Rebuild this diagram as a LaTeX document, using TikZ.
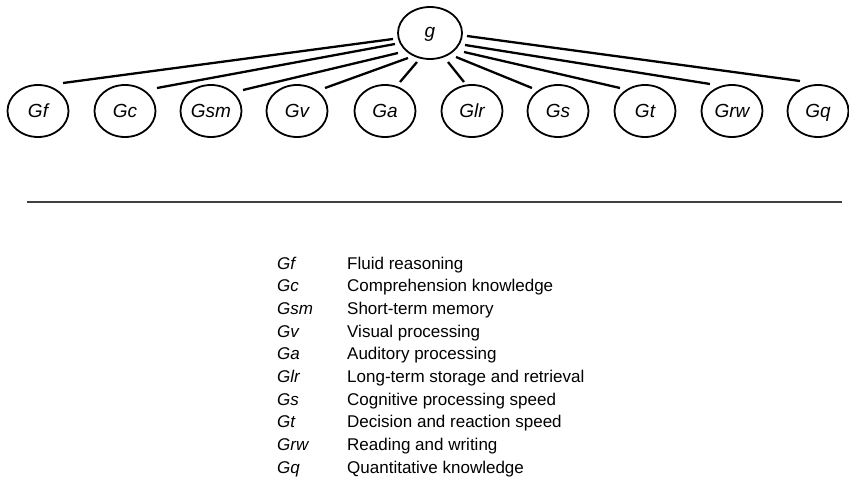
\documentclass[tikz,border=0pt]{standalone}
\usepackage{fontspec}
\setmainfont{Liberation Sans}
\usetikzlibrary{shapes.geometric,calc}
\begin{document}
\begin{tikzpicture}[x=1pt,y=1pt,
  factor/.style={ellipse,draw,line width=1.8pt,minimum width=61pt,minimum height=52pt,inner sep=0pt,text height=13.6pt,text depth=0pt,font=\fontsize{19}{22}\selectfont\itshape},
  link/.style={line width=2.3pt},
  rule/.style={line width=1.1pt,black!75},
  abbr/.style={anchor=base west,inner sep=0pt,font=\fontsize{17}{20}\selectfont\itshape},
  desc/.style={anchor=base west,inner sep=0pt,font=\fontsize{17}{20}\selectfont}]
\useasboundingbox (0,0) rectangle (849,-484);
% general factor
\node[factor,minimum width=64pt,text height=10pt] (g) at (430,-33) {g};
% broad abilities
\node[factor] (Gf)  at (38,-111)  {Gf};
\node[factor] (Gc)  at (125,-111) {Gc};
\node[factor] (Gsm) at (211,-111) {Gsm};
\node[factor] (Gv)  at (297,-111) {Gv};
\node[factor] (Ga)  at (385,-111) {Ga};
\node[factor] (Glr) at (472,-111) {Glr};
\node[factor] (Gs)  at (558,-111) {Gs};
\node[factor] (Gt)  at (645,-111) {Gt};
\node[factor] (Grw) at (732,-111) {Grw};
\node[factor] (Gq)  at (818,-111) {Gq};
% connectors
\draw[link] ($(g.center)+(-37,-6)$)  -- ($(Gf.center)+(25,28)$);
\draw[link] ($(g.center)+(-35,-11)$) -- ($(Gc.center)+(32,23)$);
\draw[link] ($(g.center)+(-32,-20)$) -- ($(Gsm.center)+(32,21)$);
\draw[link] ($(g.center)+(-22,-25)$) -- ($(Gv.center)+(28,23)$);
\draw[link] ($(g.center)+(-13,-29)$) -- ($(Ga.center)+(15,29)$);
\draw[link] ($(g.center)+(18,-29)$)  -- ($(Glr.center)+(-8,29)$);
\draw[link] ($(g.center)+(26,-24)$)  -- ($(Gs.center)+(-26,23)$);
\draw[link] ($(g.center)+(34,-19)$)  -- ($(Gt.center)+(-25,23)$);
\draw[link] ($(g.center)+(35,-12)$)  -- ($(Grw.center)+(-22,27)$);
\draw[link] ($(g.center)+(37,-3)$)   -- ($(Gq.center)+(-18,30)$);
% separator
\coordinate (ruleL) at (27,-202);
\coordinate (ruleR) at (842,-202);
\draw[rule] (ruleL) -- (ruleR);
% legend
\foreach \ab/\de [count=\i from 0] in {Gf/Fluid reasoning, Gc/Comprehension knowledge, Gsm/Short-term memory, Gv/Visual processing, Ga/Auditory processing, Glr/Long-term storage and retrieval, Gs/Cognitive processing speed, Gt/Decision and reaction speed, Grw/Reading and writing, Gq/Quantitative knowledge}{
  \node[abbr] (ab\i) at (277,-269-22.7*\i) {\ab};
  \node[desc] (de\i) at (347,-269-22.7*\i) {\de};
}
\end{tikzpicture}
\end{document}
